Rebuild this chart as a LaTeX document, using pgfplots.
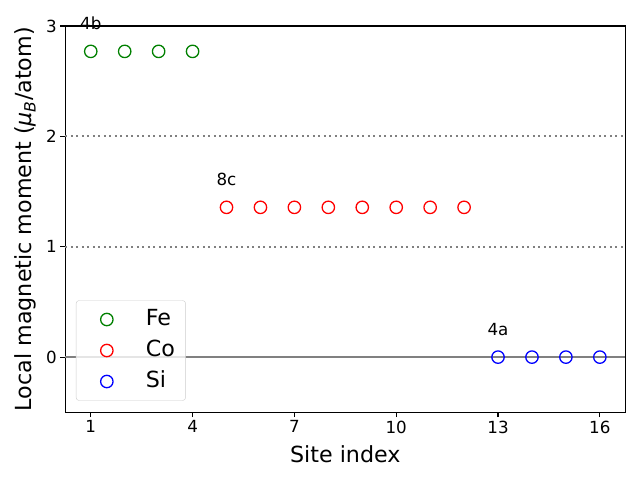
\documentclass[border=0pt]{standalone}
\usepackage{fontspec}
\setmainfont{DejaVu Sans}
\usepackage{pgfplots}
\pgfplotsset{compat=1.18}
\definecolor{mplgreen}{HTML}{008000}
\definecolor{mplred}{HTML}{FF0000}
\definecolor{mplblue}{HTML}{0000FF}
\definecolor{legframe}{HTML}{CCCCCC}
\begin{document}
\begin{tikzpicture}
\begin{axis}[
  scale only axis,
  width=560pt, height=386.3pt,
  xmin=0.25, xmax=16.75, ymin=-0.5, ymax=3,
  clip=false,
  axis line style={line width=1.1pt},
  tick style={black, line width=1.1pt},
  major tick length=4.9pt,
  tick align=outside,
  xtick pos=bottom, ytick pos=left,
  xtick={1,4,7,10,13,16},
  ytick={0,1,2,3},
  /pgf/number format/assume math mode=true,
  ticklabel style={font=\fontsize{16.7}{20}\selectfont},
  xlabel={Site index},
  ylabel={Local magnetic moment (\textit{μ}\textsubscript{\textit{B}}/atom)},
  label style={font=\fontsize{22.2}{26}\selectfont},
  xlabel style={at={(axis description cs:0.5,-0.1087)}, anchor=center},
  ylabel style={at={(axis description cs:-0.0714,0.5)}, anchor=center},
  legend style={at={(0.019,0.03)}, anchor=south west,
    font=\fontsize{22.2}{26}\selectfont,
    draw=legframe, rounded corners=3pt, fill=white, fill opacity=0.8, text opacity=1,
    row sep=10pt, column sep=29pt, inner xsep=10.7pt, inner ysep=8.5pt,
    nodes={inner sep=0pt, text height=16pt, text depth=5pt}},
  legend cell align=left,
  legend image code/.code={
    \path[draw=none,fill=none] (0pt,0pt) -- (30pt,0pt);
    \draw[#1] plot coordinates {(20pt,0pt)};
  },
]
\addplot[gray, line width=2.1pt, forget plot] coordinates {(0.25,0) (16.75,0)};
\addplot[gray, line width=2.1pt, dash pattern=on 2.1pt off 3.4pt, forget plot] coordinates {(0.25,1) (16.75,1)};
\addplot[gray, line width=2.1pt, dash pattern=on 2.1pt off 3.4pt, forget plot] coordinates {(0.25,2) (16.75,2)};
\addplot[only marks, mark=o, mark size=6.2pt, mplgreen, mark options={line width=1.3pt}] coordinates {
(1,2.77) (2,2.77) (3,2.77) (4,2.77)};
\addlegendentry{Fe}
\addplot[only marks, mark=o, mark size=6.2pt, mplred, mark options={line width=1.3pt}] coordinates {
(5,1.357) (6,1.357) (7,1.357) (8,1.357) (9,1.357) (10,1.357) (11,1.357) (12,1.357)};
\addlegendentry{Co}
\addplot[only marks, mark=o, mark size=6.2pt, mplblue, mark options={line width=1.3pt}] coordinates {
(13,0) (14,0) (15,0) (16,0)};
\addlegendentry{Si}
\node[anchor=base, font=\fontsize{16.7}{20}\selectfont, inner sep=0pt] at (axis cs:1,2.97) {4b};
\node[anchor=base, font=\fontsize{16.7}{20}\selectfont, inner sep=0pt] at (axis cs:5,1.557) {8c};
\node[anchor=base, font=\fontsize{16.7}{20}\selectfont, inner sep=0pt] at (axis cs:13,0.2) {4a};
\coordinate (ll) at (rel axis cs:0,0);
\coordinate (ur) at (rel axis cs:1,1);
\end{axis}
\path ([shift={(-65.3pt,-67.7pt)}]ll) rectangle ([shift={(14.7pt,26pt)}]ur);
\end{tikzpicture}
\end{document}
